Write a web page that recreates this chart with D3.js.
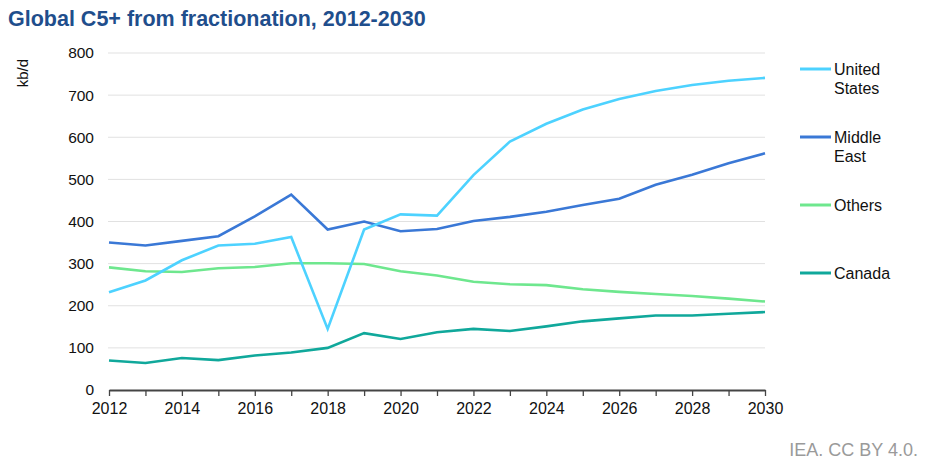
<html>

<head>
    <script src="https://d3js.org/d3.v7.min.js"></script>
    <style>
        body { margin: 0; background: #fff; }
        text { font-family: "Liberation Sans", Arial, sans-serif; }
    </style>
</head>

<body>
    <svg id="chart" width="950" height="468"></svg>
    <script>
        var years = d3.range(2012, 2031);
        var unitedStates = [232, 260, 308, 343, 347, 363, 145, 381, 417, 414, 510, 590, 632, 666, 691, 710, 724, 734, 741];
        var middleEast = [350, 343, 354, 365, 412, 464, 381, 400, 377, 382, 401, 411, 423, 439, 454, 487, 511, 538, 562];
        var others = [291, 282, 280, 289, 292, 301, 301, 299, 282, 272, 257, 251, 249, 239, 233, 228, 223, 217, 210];
        var canada = [70, 64, 76, 71, 82, 89, 100, 135, 121, 137, 145, 140, 151, 163, 170, 177, 177, 181, 185];
        var seriesNames = [["United", "States"], ["Middle", "East"], ["Others"], ["Canada"]];
        var seriesColors = ["#4dd2ff", "#3a78d6", "#6ee78e", "#10a89b"];
        var yTicks = [0, 100, 200, 300, 400, 500, 600, 700, 800];
        var xTickLabels = d3.range(2012, 2031, 2);

        var svg = d3.select("#chart");
        var allSeries = [unitedStates, middleEast, others, canada];

        var x = d3.scaleLinear().domain([2012, 2030]).range([109, 765]);
        var y = d3.scaleLinear().domain([0, 800]).range([390, 53]);

        // title
        svg.append("text")
            .attr("x", 8).attr("y", 26)
            .attr("font-size", 21.5).attr("font-weight", "bold")
            .attr("fill", "#1f4e8c")
            .text("Global C5+ from fractionation, 2012-2030");

        // gridlines
        svg.append("g").selectAll("line")
            .data(yTicks.filter((d) => d > 0))
            .enter().append("line")
            .attr("x1", 108).attr("x2", 765)
            .attr("y1", (d) => y(d)).attr("y2", (d) => y(d))
            .attr("stroke", "#e1e1e1").attr("stroke-width", 1);

        // y axis labels
        var yAxis = svg.append("g")
            .attr("transform", "translate(108,0)")
            .call(d3.axisLeft(y).tickValues(yTicks).tickSize(0).tickPadding(14));
        yAxis.select(".domain").remove();
        yAxis.selectAll("text").attr("font-size", 15.5).attr("fill", "#111")
            .attr("font-family", "Liberation Sans, Arial, sans-serif");

        svg.append("text")
            .attr("transform", "translate(28,59) rotate(-90)")
            .attr("text-anchor", "end")
            .attr("font-size", 15).attr("fill", "#111")
            .text("kb/d");

        // x axis
        var xAxis = svg.append("g")
            .attr("transform", "translate(0," + y(0) + ")")
            .call(d3.axisBottom(x).tickValues(years).tickSize(6).tickSizeOuter(0)
                .tickFormat((d) => xTickLabels.indexOf(d) >= 0 ? d : ""));
        xAxis.select(".domain").attr("stroke", "#444").attr("stroke-width", 2);
        xAxis.selectAll(".tick line").attr("stroke", "#444").attr("stroke-width", 1.3);
        xAxis.selectAll("text").attr("font-size", 16).attr("fill", "#111").attr("dy", "0.95em")
            .attr("font-family", "Liberation Sans, Arial, sans-serif");

        // lines
        var line = d3.line()
            .x((d, i) => x(years[i]))
            .y((d) => y(d));

        // draw in back-to-front order
        [2, 3, 1, 0].forEach(function (k) {
            svg.append("path")
                .datum(allSeries[k])
                .attr("d", line)
                .attr("fill", "none")
                .attr("stroke", seriesColors[k])
                .attr("stroke-width", 2.6)
                .attr("stroke-linejoin", "miter");
        });

        // legend
        var legendY = [69, 137, 205, 273];
        var legend = svg.append("g").selectAll("g")
            .data(seriesNames)
            .enter().append("g")
            .attr("transform", (d, i) => "translate(800," + legendY[i] + ")");
        legend.append("line")
            .attr("x1", 0).attr("x2", 31)
            .attr("stroke", (d, i) => seriesColors[i])
            .attr("stroke-width", 3);
        legend.append("text")
            .attr("x", 34).attr("y", 6)
            .attr("font-size", 16).attr("fill", "#111")
            .selectAll("tspan")
            .data((d) => d)
            .enter().append("tspan")
            .attr("x", 34)
            .attr("dy", (d, i) => i == 0 ? 0 : 19)
            .text((d) => d);

        // source
        svg.append("text")
            .attr("x", 918).attr("y", 456)
            .attr("text-anchor", "end")
            .attr("font-size", 18).attr("fill", "#9a9a9a")
            .text("IEA. CC BY 4.0.");
    </script>
</body>

</html>
